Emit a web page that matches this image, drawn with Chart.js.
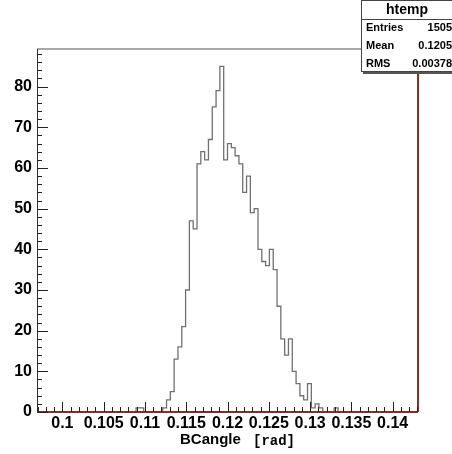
<!DOCTYPE html>
<html>
<head>
<meta charset="utf-8">
<script src="https://cdn.jsdelivr.net/npm/chart.js@4.4.0/dist/chart.umd.min.js"></script>
<style>
  html, body { margin: 0; padding: 0; background: #fff; }
  #wrap { width: 452px; height: 454px; }
</style>
</head>
<body>
<div id="wrap"><canvas id="histChart" width="452" height="454"></canvas></div>
<script>
// histogram data
const histName = "htemp";
const axisTitle = "BCangle";
const axisUnit = "[rad]";
const xLow = 0.096924;
const xHigh = 0.143066;
const binCounts = [
  0, 0, 0, 0, 0, 0, 0, 0, 0, 0,
  0, 0, 0, 0, 0, 0, 0, 0, 0, 0,
  0, 0, 0, 0, 0, 0, 1, 1, 0, 0,
  0, 0, 0, 1, 3, 5, 13, 16, 21, 30,
  47, 45, 61, 64, 62, 67, 75, 79, 85, 62,
  66, 65, 63, 61, 54, 58, 49, 50, 40, 37,
  36, 40, 35, 26, 18, 14, 18, 10, 7, 4,
  3, 7, 1, 2, 1, 0, 0, 0, 1, 0,
  0, 0, 0, 0, 0, 0, 0, 0, 0, 0,
  0, 0, 0, 0, 0, 0, 0, 0, 0, 0
];
const xTickValues = [0.1, 0.105, 0.11, 0.115, 0.12, 0.125, 0.13, 0.135, 0.14];
const yTickValues = [0, 10, 20, 30, 40, 50, 60, 70, 80];
const statLabels = ["Entries", "Mean", "RMS"];
const statValues = ["1505", "0.1205", "0.00378"];

const labelFont = { family: "'Liberation Sans', Arial, sans-serif", size: 16, weight: "bold" };

// bin low edges + closing edge, for a step outline
const binWidth = (xHigh - xLow) / binCounts.length;
const stepPoints = [];
for (let i = 0; i <= binCounts.length; i++) {
  stepPoints.push({ x: xLow + i * binWidth, y: binCounts[Math.min(i, binCounts.length - 1)] });
}
const yTop = Math.max(...binCounts) * 1.05;

const rootFrame = {
  id: "rootFrame",
  afterDatasetsDraw(chart) {
    const { ctx, chartArea: a, scales } = chart;
    const x = scales.x, y = scales.y;
    ctx.save();

    // frame
    ctx.lineWidth = 2;
    ctx.strokeStyle = "#a8a8a8";
    ctx.beginPath();
    ctx.moveTo(a.left, a.top); ctx.lineTo(a.right, a.top);
    ctx.stroke();
    ctx.lineWidth = 1;
    ctx.strokeStyle = "#333";
    ctx.beginPath();
    ctx.moveTo(a.left + 0.5, a.top); ctx.lineTo(a.left + 0.5, a.bottom);
    ctx.stroke();
    ctx.lineWidth = 2;
    ctx.strokeStyle = "#8b2e2a";
    ctx.beginPath();
    ctx.moveTo(a.left, a.bottom); ctx.lineTo(a.right, a.bottom);
    ctx.moveTo(a.right, a.top); ctx.lineTo(a.right, a.bottom);
    ctx.stroke();

    // inward ticks, ROOT style
    ctx.lineWidth = 1;
    ctx.strokeStyle = "#222";
    ctx.beginPath();
    for (let k = 97; k <= 143; k++) {
      const px = Math.round(x.getPixelForValue(k / 1000)) + 0.5;
      const len = k % 5 === 0 ? 10 : 5;
      ctx.moveTo(px, a.bottom); ctx.lineTo(px, a.bottom - len);
    }
    for (let v = 0; v <= y.max; v += 2) {
      const py = Math.round(y.getPixelForValue(v)) + 0.5;
      const len = v % 10 === 0 ? 11 : 5;
      ctx.moveTo(a.left, py); ctx.lineTo(a.left + len, py);
    }
    ctx.stroke();

    // axis title
    ctx.fillStyle = "#000";
    ctx.textBaseline = "middle";
    ctx.textAlign = "left";
    ctx.font = "bold 15px 'Liberation Sans'";
    ctx.fillText(axisTitle, 180, 440);
    ctx.font = "bold 14px 'Liberation Mono'";
    ctx.fillText(axisUnit, 253, 441);
    ctx.restore();
  },
  afterDraw(chart) {
    const ctx = chart.ctx;
    ctx.save();
    // stats box with shadow
    ctx.fillStyle = "#555";
    ctx.fillRect(363, 2, 95, 72);
    ctx.fillStyle = "#fff";
    ctx.fillRect(361, 0, 95, 72);
    ctx.strokeStyle = "#444";
    ctx.lineWidth = 1;
    ctx.strokeRect(361.5, 0.5, 95, 71);
    ctx.beginPath();
    ctx.moveTo(361, 19.5); ctx.lineTo(456, 19.5);
    ctx.stroke();

    ctx.fillStyle = "#000";
    ctx.textBaseline = "middle";
    ctx.textAlign = "center";
    ctx.font = "bold 14px 'Liberation Sans'";
    ctx.fillText(histName, 407, 10);
    ctx.font = "bold 11px 'Liberation Sans'";
    statLabels.forEach((lab, i) => {
      const ty = 28 + i * 18;
      ctx.textAlign = "left";
      ctx.fillText(lab, 366, ty);
      ctx.textAlign = "right";
      ctx.fillText(statValues[i], 452, ty);
    });
    ctx.restore();
  }
};

new Chart(document.getElementById("histChart"), {
  type: "line",
  data: {
    datasets: [{
      data: stepPoints,
      stepped: true,
      borderColor: "#707070",
      borderWidth: 1.3,
      pointRadius: 0,
      fill: false,
      clip: false
    }]
  },
  options: {
    responsive: false,
    animation: false,
    events: [],
    layout: { padding: { top: 49, right: 34, left: 0, bottom: 0 } },
    plugins: { legend: { display: false }, tooltip: { enabled: false } },
    scales: {
      x: {
        type: "linear",
        min: xLow,
        max: xHigh,
        grid: { display: false, drawTicks: false },
        border: { display: false },
        afterFit: (scale) => { scale.height = 42; },
        afterBuildTicks: (scale) => { scale.ticks = xTickValues.map((v) => ({ value: v })); },
        ticks: {
          autoSkip: false,
          maxRotation: 0,
          padding: 2,
          color: "#000",
          font: labelFont,
          callback: (v) => String(+Number(v).toFixed(3))
        }
      },
      y: {
        type: "linear",
        min: 0,
        max: yTop,
        grid: { display: false, drawTicks: false },
        border: { display: false },
        afterFit: (scale) => { scale.width = 37; },
        afterBuildTicks: (scale) => { scale.ticks = yTickValues.map((v) => ({ value: v })); },
        ticks: {
          padding: 5,
          color: "#000",
          font: labelFont
        }
      }
    }
  },
  plugins: [rootFrame]
});
</script>
</body>
</html>
